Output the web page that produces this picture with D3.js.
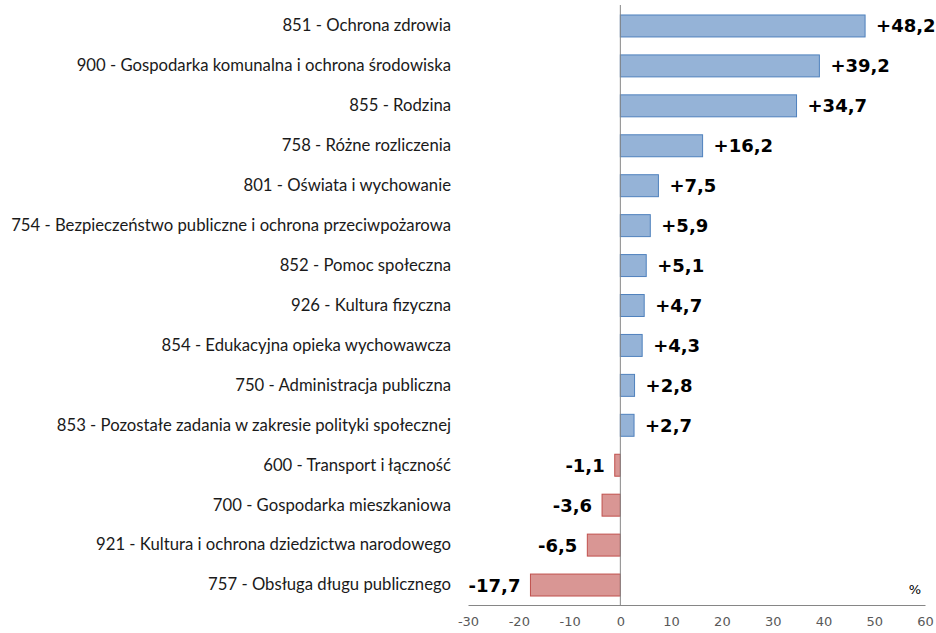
<!DOCTYPE html>
<html>
<head>
<meta charset="utf-8">
<script src="https://cdn.jsdelivr.net/npm/d3@7"></script>
<style>
  body { margin: 0; background: #fff; }
  .cat text { font-family: Lato, "Liberation Sans", sans-serif; font-size: 16.7px; fill: #1a1a1a; }
  .x text { font-family: "DejaVu Sans", Verdana, sans-serif; font-size: 13px; fill: #595959; }
</style>
</head>
<body>
<script>
// categories (top to bottom) and change in %
var categories = [
  "851 - Ochrona zdrowia",
  "900 - Gospodarka komunalna i ochrona środowiska",
  "855 - Rodzina",
  "758 - Różne rozliczenia",
  "801 - Oświata i wychowanie",
  "754 - Bezpieczeństwo publiczne i ochrona przeciwpożarowa",
  "852 - Pomoc społeczna",
  "926 - Kultura fizyczna",
  "854 - Edukacyjna opieka wychowawcza",
  "750 - Administracja publiczna",
  "853 - Pozostałe zadania w zakresie polityki społecznej",
  "600 - Transport i łączność",
  "700 - Gospodarka mieszkaniowa",
  "921 - Kultura i ochrona dziedzictwa narodowego",
  "757 - Obsługa długu publicznego"
];
var values = [48.2, 39.2, 34.7, 16.2, 7.5, 5.9, 5.1, 4.7, 4.3, 2.8, 2.7, -1.1, -3.6, -6.5, -17.7];
var xTicks = [-30, -20, -10, 0, 10, 20, 30, 40, 50, 60];
var unitLabel = "%";

var width = 936, height = 633;
var data = categories.map(function(c, i){ return {cat: c, v: values[i]}; });

var svg = d3.select("body").append("svg")
  .attr("width", width).attr("height", height);

var x = d3.scaleLinear().domain([-30, 60]).range([468, 925]);
var y = d3.scaleBand().domain(categories).range([6, 605])
  .paddingInner(0.45).paddingOuter(0.225);

// bars
svg.selectAll("rect.bar")
  .data(data)
  .enter().append("rect")
  .attr("class", "bar")
  .attr("x", function(d){ return x(Math.min(0, d.v)); })
  .attr("y", function(d){ return y(d.cat); })
  .attr("width", function(d){ return Math.abs(x(d.v) - x(0)); })
  .attr("height", y.bandwidth())
  .attr("fill", function(d){ return d.v >= 0 ? "#95b3d7" : "#d99694"; })
  .attr("stroke", function(d){ return d.v >= 0 ? "#4f81bd" : "#c0504d"; })
  .attr("stroke-width", 1);

// zero line
svg.append("line")
  .attr("x1", x(0)).attr("x2", x(0))
  .attr("y1", 5).attr("y2", 605)
  .attr("stroke", "#868686").attr("stroke-width", 1);

// x axis
var xAxis = d3.axisBottom(x).tickValues(xTicks).tickSize(0).tickSizeOuter(0).tickPadding(12)
  .tickFormat(function(d){ return String(d); });
var gx = svg.append("g").attr("class", "x").attr("transform", "translate(0,605)").call(xAxis);
gx.select(".domain").attr("stroke", "#868686");

// category labels
var yAxis = d3.axisLeft(y).tickSize(0).tickPadding(0);
var gy = svg.append("g").attr("class", "cat").attr("transform", "translate(451,0)").call(yAxis);
gy.select(".domain").remove();

// value labels
function fmt(v){ return (v > 0 ? "+" : "") + v.toFixed(1).replace(".", ","); }
svg.selectAll("text.val")
  .data(data)
  .enter().append("text")
  .attr("class", "val")
  .attr("x", function(d){ return d.v >= 0 ? x(d.v) + 11 : x(d.v) - 10; })
  .attr("y", function(d){ return y(d.cat) + y.bandwidth() / 2; })
  .attr("dy", "0.36em")
  .attr("text-anchor", function(d){ return d.v >= 0 ? "start" : "end"; })
  .attr("font-family", "'DejaVu Sans', Verdana, sans-serif")
  .attr("font-weight", "bold")
  .attr("font-size", 18)
  .attr("fill", "#000")
  .text(function(d){ return fmt(d.v); });

// unit
svg.append("text")
  .attr("x", 915).attr("y", 594)
  .attr("text-anchor", "middle")
  .attr("font-family", "'DejaVu Sans', Verdana, sans-serif")
  .attr("font-size", 13)
  .attr("fill", "#000")
  .text(unitLabel);
</script>
</body>
</html>
